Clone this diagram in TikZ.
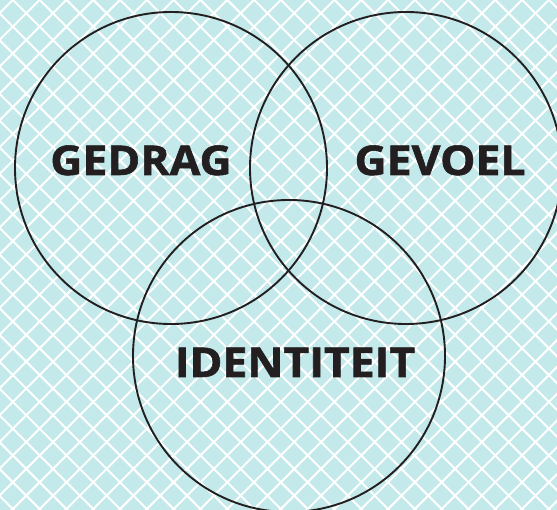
\documentclass[tikz,border=0pt]{standalone}
\usepackage{fontspec}
\setmainfont{Open Sans}[BoldFeatures={FakeBold=1.3}]
\definecolor{bgcyan}{HTML}{C3E9EA}
\definecolor{ink}{HTML}{231F20}
\newcommand{\widen}[1]{\scalebox{1.085}[1]{#1}}
\begin{document}
\begin{tikzpicture}[x=1pt,y=-1pt,
  ring/.style={draw=ink,line width=1.9pt},
  hatch/.style={draw=white,line width=2pt},
  word/.style={font=\fontsize{41}{41}\selectfont\bfseries,text=ink,inner sep=0pt,anchor=base}]
\useasboundingbox (0,0) rectangle (557,510);
\fill[bgcyan] (0,0) rectangle (557,510);
\begin{scope}
\clip (0,0) rectangle (557,510);
\foreach \k in {-2,...,42} {
  \pgfmathsetmacro{\cc}{39.5+26.8*\k-26.8*2}
  \draw[hatch] (\cc,0) -- ({\cc-520},520);
}
\foreach \m in {-22,...,24} {
  \pgfmathsetmacro{\dd}{13+26.8*\m}
  \draw[hatch] (\dd,0) -- ({\dd+520},520);
}
\end{scope}
\node[ring,circle,minimum size=312pt,inner sep=0pt] (gedrag) at (171,168) {};
\node[ring,circle,minimum size=312pt,inner sep=0pt] (gevoel) at (406,168) {};
\node[ring,circle,minimum size=312pt,inner sep=0pt] (identiteit) at (289,356) {};
\node[word] (tg) at (141,175) {\widen{GEDRAG}};
\node[word] (tv) at (440,175) {\widen{GEVOEL}};
\node[word] (ti) at (295,377) {\widen{IDENTITEIT}};
\end{tikzpicture}
\end{document}
